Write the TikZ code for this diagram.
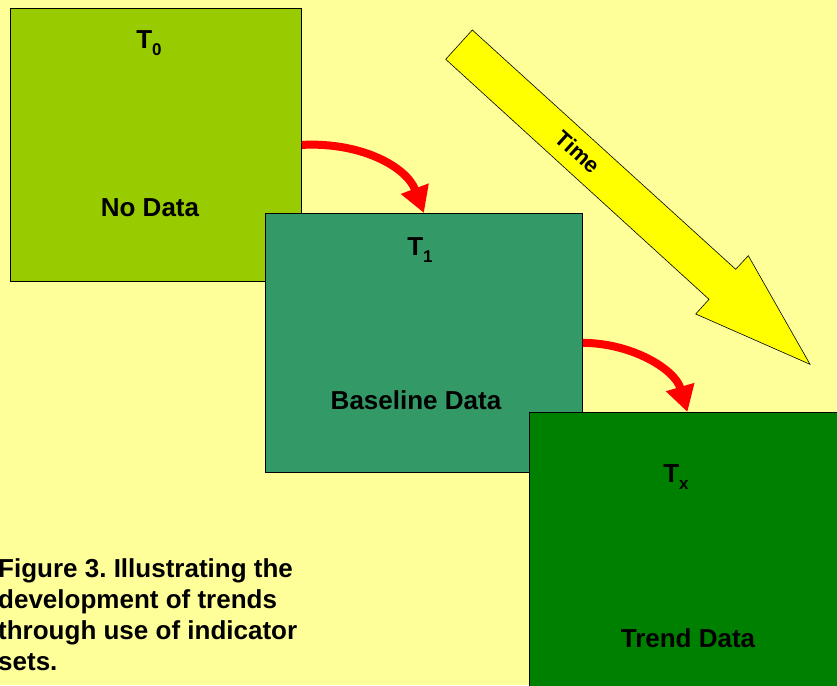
\documentclass[tikz,border=0pt]{standalone}
\usepackage{fontspec}
\setmainfont{Liberation Sans}
\usetikzlibrary{arrows.meta}
\frenchspacing
\definecolor{bgyellow}{HTML}{FFFF99}
\definecolor{boxone}{HTML}{99CC00}
\definecolor{boxtwo}{HTML}{339966}
\definecolor{boxthree}{HTML}{008000}
\definecolor{timeyellow}{HTML}{FFFF00}
\definecolor{redarrow}{HTML}{FF0000}
\newcommand\subtx[1]{\raisebox{-7pt}{\fontsize{17}{17}\selectfont #1}}
\begin{document}
\begin{tikzpicture}[x=1pt,y=1pt,
  box/.style={draw=black, line width=0.8pt, anchor=north west, inner sep=0pt},
  lbl/.style={anchor=base, inner sep=0pt, font=\bfseries\fontsize{26}{31}\selectfont},
  redconn/.style={draw=redarrow, line width=8pt, -{Triangle[length=26pt,width=28pt]}}
]
\fill[bgyellow] (0,0) rectangle (837,685);
\useasboundingbox (0,0) rectangle (837,685);
% boxes
\node[box, fill=boxone, minimum width=291pt, minimum height=273pt] (b1) at (10,677) {};
\node[box, fill=boxtwo, minimum width=317pt, minimum height=259pt] (b2) at (265,472) {};
\node[box, fill=boxthree, minimum width=316pt, minimum height=285pt] (b3) at (529,273) {};
% labels
\node[lbl] (t0) at (149,636) {T\subtx{0}};
\node[lbl] (nodata) at (150,468) {No Data};
\node[lbl] (t1) at (420,429) {T\subtx{1}};
\node[lbl] (basedata) at (416,275) {Baseline Data};
\node[lbl] (tx) at (676,202) {T\subtx{x}};
\node[lbl] (trenddata) at (688,38) {Trend Data};
% red arrows
\draw[redconn] (b1.east) .. controls +(59,3) and +(-17.5,46.5) .. (b2.north);
\draw[redconn] (b2.east) .. controls +(48,0) and +(-12.6,43.2) .. (b3.north);
% time arrow
\filldraw[fill=timeyellow, draw=black, line width=0.6pt]
  (472.3,655) -- (445.7,625.7) -- (709,385.7) -- (695.7,371) -- (810,320.7)
  -- (748.3,429.3) -- (735.7,415.7) -- cycle;
\node[lbl, anchor=center, rotate=-42.3, font=\bfseries\fontsize{22}{26}\selectfont] (time) at (578,533) {Time};
% caption
\node[anchor=base west, inner sep=0pt, align=left, font=\bfseries\fontsize{26}{31}\selectfont] (caption) at (-2,15)
  {Figure 3. Illustrating the\\development of trends\\through use of indicator\\sets.};
\end{tikzpicture}
\end{document}
